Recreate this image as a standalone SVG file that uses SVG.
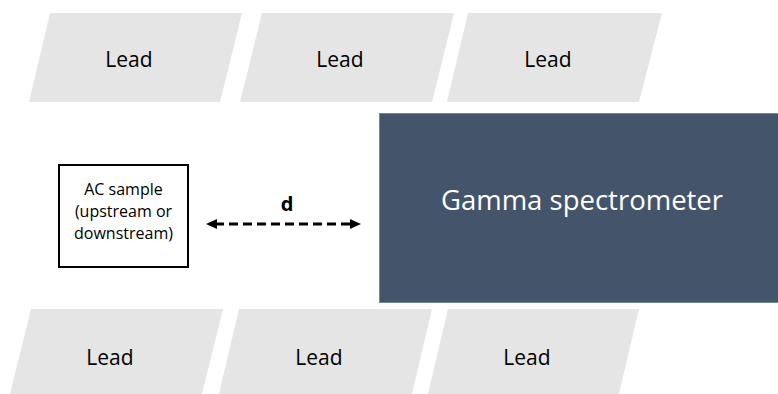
<svg xmlns="http://www.w3.org/2000/svg" width="778" height="394" viewBox="0 0 778 394">
  <style>
    .lead { fill: #E5E5E5; }
    .lead-text { font-family: "Open Sans", "Liberation Sans", sans-serif; font-size: 21px; fill: #000; text-anchor: middle; }
    .sample-text { font-family: "Open Sans", "Liberation Sans", sans-serif; font-size: 16px; fill: #000; text-anchor: middle; }
    .gamma-text { font-family: "Open Sans", "Liberation Sans", sans-serif; font-size: 27.5px; fill: #FFFFFF; text-anchor: middle; }
    .d-text { font-family: "Open Sans", "Liberation Sans", sans-serif; font-size: 20px; font-weight: bold; fill: #000; text-anchor: middle; }
    .dist { stroke: #000; stroke-width: 3; stroke-dasharray: 9 5; fill: none; }
  </style>
  <defs>
    <marker id="arrow" markerUnits="userSpaceOnUse" markerWidth="13" markerHeight="11" refX="2" refY="5" orient="auto-start-reverse">
      <path d="M0,0 L11,5 L0,10 z" fill="#000"/>
    </marker>
  </defs>
  <rect width="778" height="394" fill="#FFFFFF"/>

  <g id="lead-top-1">
    <polygon class="lead" points="50,13 242,13 220,102 29,102"/>
    <text class="lead-text" x="129" y="67">Lead</text>
  </g>
  <g id="lead-top-2">
    <polygon class="lead" points="262,13 454,13 432,102 240,102"/>
    <text class="lead-text" x="340" y="67">Lead</text>
  </g>
  <g id="lead-top-3">
    <polygon class="lead" points="468,13 662,13 639,102 447,102"/>
    <text class="lead-text" x="548" y="67">Lead</text>
  </g>

  <g id="lead-bottom-1">
    <polygon class="lead" points="31,309 223,309 201,398 9,398"/>
    <text class="lead-text" x="110" y="365">Lead</text>
  </g>
  <g id="lead-bottom-2">
    <polygon class="lead" points="239,309 432,309 411,398 218,398"/>
    <text class="lead-text" x="319" y="365">Lead</text>
  </g>
  <g id="lead-bottom-3">
    <polygon class="lead" points="448,309 639,309 618,398 427,398"/>
    <text class="lead-text" x="527" y="365">Lead</text>
  </g>

  <g id="gamma-spectrometer">
    <rect x="379.5" y="113.5" width="402" height="189" fill="#44546A" stroke="#7A8596" stroke-width="1"/>
    <text class="gamma-text" x="582" y="210">Gamma spectrometer</text>
  </g>

  <g id="ac-sample">
    <rect x="59" y="165" width="129" height="102" fill="#FFFFFF" stroke="#000" stroke-width="2"/>
    <text class="sample-text" x="123.5" y="195">AC sample</text>
    <text class="sample-text" x="123.5" y="217">(upstream or</text>
    <text class="sample-text" x="123.5" y="239">downstream)</text>
  </g>

  <g id="connectors">
    <line class="dist" x1="215" y1="224" x2="352" y2="224" marker-start="url(#arrow)" marker-end="url(#arrow)"/>
    <text class="d-text" x="287" y="211">d</text>
  </g>
</svg>
